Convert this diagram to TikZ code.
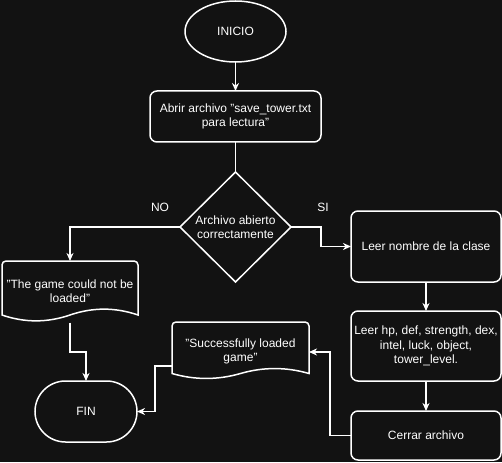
\documentclass[tikz,border=0pt]{standalone}
\usepackage{fontspec}
\setmainfont{Liberation Sans}
\usetikzlibrary{arrows.meta,shapes.geometric,calc}
\definecolor{bgc}{HTML}{121212}
\newcommand{\dq}{\symbol{34}}
\begin{document}
\begin{tikzpicture}[x=1pt,y=-1pt,
  every node/.style={text=white,font=\fontsize{12}{14.4}\selectfont,inner sep=0pt,outer sep=0pt,align=center},
  shp/.style={draw=white,line width=1.5pt},
  procbox/.style={shp,rectangle,rounded corners=7pt,minimum width=150pt},
  conn/.style={draw=white,line width=1.3pt,-{Stealth[length=8pt,width=7pt,inset=2.5pt]}},
  plainline/.style={draw=white,line width=1.3pt}]
\useasboundingbox (0,0) rectangle (502,462);
\fill[bgc] (0,0) rectangle (502,462);

% nodes
\node[shp,ellipse,minimum width=101pt,minimum height=61pt] (inicio) at (235.5,31.5) {INICIO};
\node[procbox,minimum width=171pt,minimum height=51pt] (abrir) at (235.5,116.5) {Abrir archivo \dq save\_tower.txt\\para lectura\dq};
\node[minimum width=111pt,minimum height=110pt] (dec) at (235.5,227) {Archivo abierto\\correctamente};
\draw[shp,line join=miter] (dec.north) -- (dec.east) -- (dec.south) -- (dec.west) -- cycle;
\node (no) at (160,207) {NO};
\node (si) at (323,207) {SI};

\node[minimum width=136pt,minimum height=60.5pt] (doc1) at (70,291.25) {\dq The game could not be\\loaded\dq};
\draw[shp] (2,315) [rounded corners=4pt] -- (2,261) -- (138,261) -- (138,290) [sharp corners] -- (138,315)
  .. controls (115.33,307.2) and (92.67,307.2) .. (70,315)
  .. controls (47.33,322.8) and (24.67,322.8) .. (2,315) -- cycle;

\node[procbox,minimum height=71pt] (leer1) at (426,246.5) {Leer nombre de la clase};
\node[procbox,minimum height=70pt] (leer2) at (426,346) {Leer hp, def, strength, dex,\\intel, luck, object,\\tower\_level.};
\node[procbox,minimum height=49pt] (cerrar) at (426,435.5) {Cerrar archivo};

\node[minimum width=137pt,minimum height=57pt] (doc2) at (240.5,351.5) {\dq Successfully loaded\\game\dq};
\draw[shp] (172,373.5) [rounded corners=4pt] -- (172,322) -- (309,322) -- (309,350) [sharp corners] -- (309,373.5)
  .. controls (286.17,366.9) and (263.33,366.9) .. (240.5,373.5)
  .. controls (217.67,380.1) and (194.83,380.1) .. (172,373.5) -- cycle;

\node[shp,rectangle,rounded corners=30.5pt,minimum width=102pt,minimum height=61pt] (fin) at (86,411.5) {FIN};

% connectors
\draw[conn] (inicio.south) -- (abrir.north);
\draw[plainline] (abrir.south) -- (dec.north);
\draw[conn] (dec.west) -| (doc1.north);
\draw[conn] (dec.east) -- ++(30,0) |- (leer1.west);
\draw[conn] (leer1.south) -- (leer2.north);
\draw[conn] (leer2.south) -- (cerrar.north);
\draw[conn] (cerrar.west) -- ++(-21,0) |- ([yshift=-0.5pt]doc2.east);
\draw[conn] ([yshift=-14.5pt]doc2.west) -- ++(-17,0) |- (fin.east);
\draw[conn] ([yshift=-1pt]doc1.south) -- ++(0,29.5) -| (fin.north);
\end{tikzpicture}
\end{document}
